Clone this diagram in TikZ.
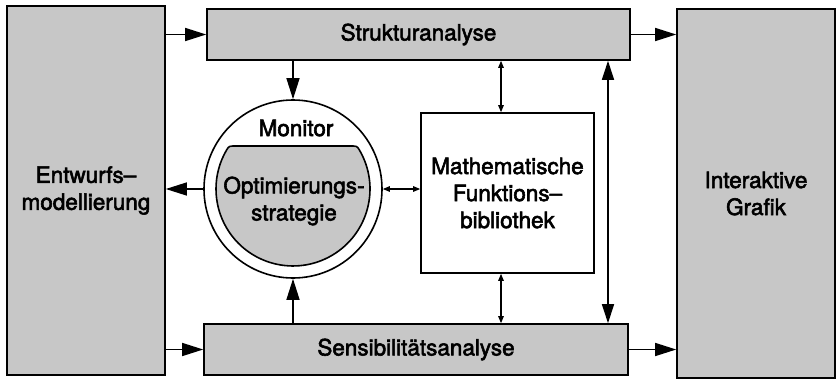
\documentclass[tikz,border=0pt]{standalone}
\usepackage{fontspec}
\setmainfont[FakeBold=2.5]{TeX Gyre Heros}
\usetikzlibrary{arrows.meta}
\begin{document}
\begin{tikzpicture}[x=1pt,y=-1pt,
  font=\fontsize{22.5}{27}\selectfont,
  box/.style={draw=black,line width=1.6pt,fill=black!22,inner sep=0pt,
    align=center},
  plainbox/.style={draw=black,line width=1.6pt,fill=white,inner sep=0pt,
    align=center},
  flow/.style={line width=1.4pt,-{Triangle[length=21pt,width=13pt]}},
  twoway/.style={line width=1.4pt,{Triangle[length=19pt,width=12pt]}-{Triangle[length=19pt,width=12pt]}},
  link/.style={line width=1.2pt,{Triangle[length=7pt,width=5.5pt]}-{Triangle[length=7pt,width=5.5pt]}}]
\useasboundingbox (0,0) rectangle (838,381);

% main blocks
\node[box,minimum width=158pt,minimum height=369pt] (entw) at (86,190.5)
  {Entwurfs–\\modellierung};
\node[box,minimum width=423pt,minimum height=51pt] (struk) at (418.5,34.5)
  {Strukturanalyse};
\node[box,minimum width=158pt,minimum height=369pt] (graf) at (756,193.5)
  {Interaktive\\Grafik};
\node[box,minimum width=424pt,minimum height=51pt] (sens) at (416,349.5)
  {Sensibilitätsanalyse};
\node[plainbox,minimum width=173pt,minimum height=160pt] (math) at (507.5,193)
  {Mathematische\\Funktions–\\bibliothek};

% monitor ring with the optimisation core (circle cut flat at the top)
\node[circle,draw=black,line width=1.6pt,fill=white,minimum size=178pt,
  inner sep=0pt] (mon) at (293,189) {};
\draw[line width=1.6pt,fill=black!22]
  (236,146) -- (350,146) .. controls (357,146) .. (359.4,150)
  arc[start angle=-30.4,end angle=210.4,radius=77]
  .. controls (229,146) .. (236,146) -- cycle;
\node (montxt) at (296,128) {Monitor};
\node[align=center] (opt) at (294,201) {Optimierungs-\\strategie};

% helper columns for the vertical links
\coordinate (lx) at (608,0);
\coordinate (mx) at (501,0);

% connections
\draw[flow] (entw.east |- struk.west) -- (struk.west);
\draw[flow] (entw.east |- sens.west) -- (sens.west);
\draw[flow] (struk.east) -- (graf.west |- struk.east);
\draw[flow] (sens.east) -- (graf.west |- sens.east);
\draw[flow] (struk.south -| mon.north) -- (mon.north);
\draw[flow] (sens.north -| mon.south) -- (mon.south);
\draw[flow] (mon.west) -- (entw.east |- mon.west);
\draw[twoway] (struk.south -| lx) -- (sens.north -| lx);
\draw[link] (struk.south -| mx) -- (math.north -| mx);
\draw[link] (math.south -| mx) -- (sens.north -| mx);
\draw[link] (mon.east) -- (math.west |- mon.east);
\end{tikzpicture}
\end{document}
